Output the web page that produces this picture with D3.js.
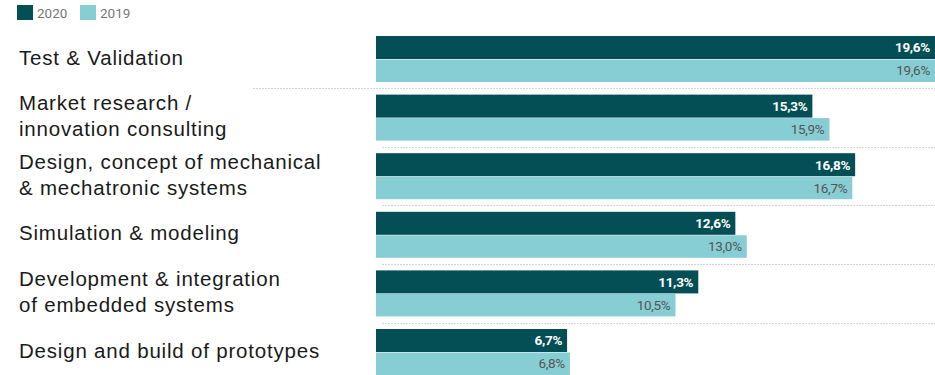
<!DOCTYPE html>
<html>
<head>
<meta charset="utf-8">
<script src="https://cdn.jsdelivr.net/npm/d3@7"></script>
<style>
  body { margin: 0; background: #fff; }
  svg { display: block; }
</style>
</head>
<body>
<div id="chart"></div>
<script>
const categories = [
  ['Test & Validation'],
  ['Market research /', 'innovation consulting'],
  ['Design, concept of mechanical', '& mechatronic systems'],
  ['Simulation & modeling'],
  ['Development & integration', 'of embedded systems'],
  ['Design and build of prototypes'],
];
const series = ['2020', '2019'];
const values2020 = [19.6, 15.3, 16.8, 12.6, 11.3, 6.7];
const values2019 = [19.6, 15.9, 16.7, 13.0, 10.5, 6.8];

const COLOR_2020 = '#034f55';
const COLOR_2019 = '#86ced3';

const width = 935;
const height = 375;

let svg = d3.select('#chart').append('svg')
  .attr('width', width)
  .attr('height', height);

let keys = categories.map((c) => c.join(' '));

let y = d3.scaleBand()
  .domain(keys)
  .range([36, 375])
  .paddingInner(0.215)
  .paddingOuter(0);

let ySub = d3.scaleBand()
  .domain(series)
  .range([0, y.bandwidth()]);

let x = d3.scaleLinear()
  .domain([0, 19.6])
  .range([376, 935]);

let fmt = (v) => d3.format('.1f')(v).replace('.', ',') + '%';

// legend
let legend = svg.append('g').attr('class', 'legend');
series.forEach((s, i) => {
  let lx = 17 + i * 63;
  legend.append('rect')
    .attr('x', lx).attr('y', 5)
    .attr('width', 16).attr('height', 15)
    .attr('fill', s == '2020' ? COLOR_2020 : COLOR_2019);
  legend.append('text')
    .attr('x', lx + 20).attr('y', 17.5)
    .attr('font-family', 'Roboto, sans-serif')
    .attr('font-size', 13.5)
    .attr('fill', '#777')
    .text(s);
});

// dotted separators between groups
let step = y.step();
let gap = step - y.bandwidth();
keys.slice(0, -1).forEach((k, i) => {
  let sy = Math.round(y(k) + y.bandwidth() + gap / 2) + 0.5;
  svg.append('line')
    .attr('x1', i == 0 ? 253 : 382).attr('x2', width)
    .attr('y1', sy).attr('y2', sy)
    .attr('stroke', '#d4d4d4')
    .attr('stroke-width', 1)
    .attr('stroke-dasharray', '2,1');
});

let rows = keys.map((k, i) => ({
  key: k,
  lines: categories[i],
  v2020: values2020[i],
  v2019: values2019[i],
}));

let group = svg.selectAll('.group')
  .data(rows)
  .enter().append('g')
  .attr('class', 'group')
  .attr('transform', (d) => 'translate(0,' + y(d.key) + ')');

group.append('rect')
  .attr('x', x(0))
  .attr('y', ySub('2020'))
  .attr('width', (d) => x(d.v2020) - x(0))
  .attr('height', ySub.bandwidth())
  .attr('fill', COLOR_2020);

group.append('rect')
  .attr('x', x(0))
  .attr('y', ySub('2019') + 0.5)
  .attr('width', (d) => x(d.v2019) - x(0))
  .attr('height', ySub.bandwidth() - 0.5)
  .attr('fill', COLOR_2019);

group.append('text')
  .attr('x', (d) => x(d.v2020) - 5)
  .attr('y', ySub('2020') + ySub.bandwidth() / 2)
  .attr('dy', '0.36em')
  .attr('text-anchor', 'end')
  .attr('font-family', 'Roboto, sans-serif')
  .attr('font-weight', 'bold')
  .attr('font-size', 13.5)
  .attr('letter-spacing', -0.3)
  .attr('fill', '#fff')
  .text((d) => fmt(d.v2020));

group.append('text')
  .attr('x', (d) => x(d.v2019) - 5)
  .attr('y', ySub('2019') + ySub.bandwidth() / 2)
  .attr('dy', '0.36em')
  .attr('text-anchor', 'end')
  .attr('font-family', 'Roboto, sans-serif')
  .attr('font-size', 13.5)
  .attr('letter-spacing', -0.3)
  .attr('fill', '#555')
  .text((d) => fmt(d.v2019));

// category labels
let label = group.append('text')
  .attr('font-family', '"Liberation Sans", Arial, sans-serif')
  .attr('font-size', 20.5)
  .attr('letter-spacing', 0.8)
  .attr('fill', '#1a1a1a');

label.selectAll('tspan')
  .data((d) => d.lines.map((t, j) => ({ t: t, j: j, n: d.lines.length })))
  .enter().append('tspan')
  .attr('x', 19)
  .attr('y', (d) => y.bandwidth() / 2 - 1.5 + (d.j - (d.n - 1) / 2) * 26)
  .attr('dy', '0.35em')
  .text((d) => d.t);
</script>
</body>
</html>
